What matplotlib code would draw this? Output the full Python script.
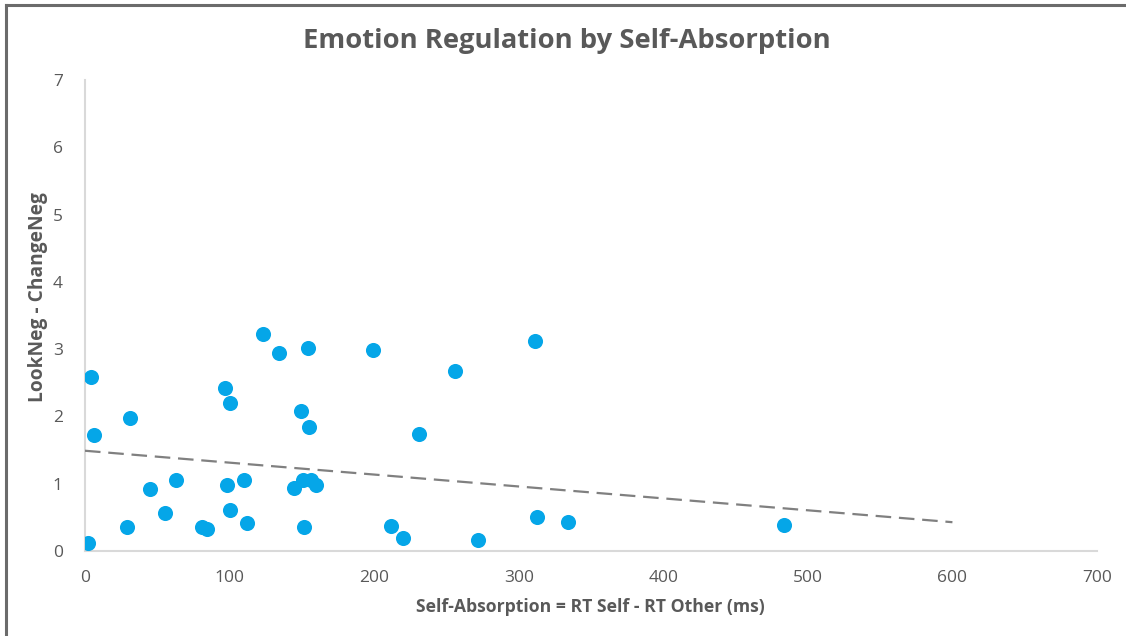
import matplotlib
matplotlib.use("Agg")
import matplotlib.pyplot as plt
from matplotlib.lines import Line2D
import numpy as np

# Data
self_absorption = [2, 4, 6.5, 29, 31, 45, 55, 63, 81, 84.5, 96.5, 98, 100, 100.5,
                   110, 112, 123, 134.5, 144.5, 149.5, 151, 151.5, 154, 155, 156, 159.5,
                   199.5, 211.5, 220, 231, 256, 271.5, 311, 312.5, 334, 483.5]
look_change = [0.12, 2.58, 1.73, 0.35, 1.98, 0.92, 0.57, 1.06, 0.36, 0.32, 2.42, 0.98,
               0.61, 2.20, 1.06, 0.41, 3.22, 2.95, 0.93, 2.08, 1.05, 0.36, 3.01, 1.85,
               1.05, 0.98, 2.98, 0.37, 0.20, 1.74, 2.68, 0.16, 3.12, 0.50, 0.43, 0.38]
trend_x = [0, 600]
trend_intercept = 1.49
trend_slope = -0.00177

title = "Emotion Regulation by Self-Absorption"
xlabel = "Self-Absorption = RT Self - RT Other (ms)"
ylabel = "LookNeg - ChangeNeg"
xticks = [0, 100, 200, 300, 400, 500, 600, 700]
yticks = [0, 1, 2, 3, 4, 5, 6, 7]

plt.rcParams['font.family'] = ['Open Sans', 'DejaVu Sans']
txt = '#595959'
axc = '#D9D9D9'

fig = plt.figure(figsize=(11.26, 6.36), dpi=100)
ax = fig.add_axes([85/1126, (636-551)/636, 1012/1126, 471/636])

ax.scatter(self_absorption, look_change, s=118, color='#05A6E8', zorder=3, linewidths=0)
tx = np.array(trend_x, dtype=float)
ax.plot(tx, trend_intercept + trend_slope * tx, color='#808080', lw=1.6,
        dashes=(7, 3.5), zorder=2)

ax.set_xlim(0, 700)
ax.set_ylim(0, 7)
ax.set_xticks(xticks)
ax.set_yticks(yticks)
ax.tick_params(length=0, labelsize=12.5, labelcolor=txt)
ax.tick_params(axis='x', pad=14)
ax.tick_params(axis='y', pad=16)
for s in ['top', 'right']:
    ax.spines[s].set_visible(False)
for s in ['left', 'bottom']:
    ax.spines[s].set_color(axc)
    ax.spines[s].set_linewidth(1.5)
ax.spines['left'].set_zorder(1)
ax.spines['bottom'].set_zorder(1)

fig.text(567/1126, 1 - 41/636, title, ha='center', va='center', fontsize=19.7,
         fontweight='bold', color=txt)
fig.text(590/1126, 1 - 607/636, xlabel, ha='center', va='center', fontsize=12.7,
         fontweight='bold', color=txt)
fig.text(38/1126, 1 - 297/636, ylabel, ha='center', va='center', fontsize=13.8,
         fontweight='bold', color=txt, rotation=90)

# outer chart border (left and top visible)
fig.add_artist(Line2D([6/1126, 6/1126], [0, 1 - 5/636], transform=fig.transFigure,
                      color='#6b6b6b', lw=2.2))
fig.add_artist(Line2D([6/1126, 1], [1 - 5/636, 1 - 5/636], transform=fig.transFigure,
                      color='#6b6b6b', lw=2.2))

fig.savefig('out.png', dpi=100, facecolor='white')
